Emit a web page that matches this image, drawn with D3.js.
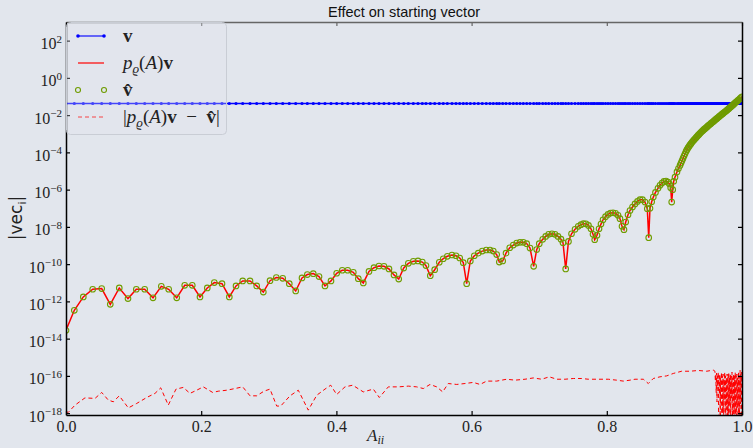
<!DOCTYPE html>
<html>
<head>
<meta charset="utf-8">
<script src="https://cdn.jsdelivr.net/npm/d3@7"></script>
<style>
  body { margin: 0; background: #e2e6ed; }
  svg { display: block; }
</style>
</head>
<body>
<svg class="chart" width="753" height="448"></svg>
<script>
// Data
const aii = [
  0.0000, 0.0123, 0.0256, 0.0395, 0.0528, 0.0655, 0.0788, 0.0917, 0.1040, 0.1164,
  0.1287, 0.1410, 0.1519, 0.1638, 0.1756, 0.1868, 0.1982, 0.2090, 0.2194, 0.2308,
  0.2416, 0.2515, 0.2614, 0.2722, 0.2821, 0.2919, 0.3018, 0.3111, 0.3206, 0.3303,
  0.3398, 0.3491, 0.3570, 0.3658, 0.3743, 0.3831, 0.3920, 0.4004, 0.4087, 0.4167,
  0.4250, 0.4324, 0.4398, 0.4482, 0.4556, 0.4630, 0.4704, 0.4778, 0.4852, 0.4922,
  0.4996, 0.5064, 0.5138, 0.5207, 0.5271, 0.5325, 0.5389, 0.5454, 0.5522, 0.5581,
  0.5641, 0.5710, 0.5769, 0.5824, 0.5877, 0.5927, 0.5981, 0.6040, 0.6099, 0.6158,
  0.6217, 0.6272, 0.6321, 0.6371, 0.6410, 0.6460, 0.6509, 0.6564, 0.6617, 0.6667,
  0.6716, 0.6765, 0.6815, 0.6864, 0.6918, 0.6963, 0.7001, 0.7052, 0.7096, 0.7140,
  0.7189, 0.7234, 0.7278, 0.7322, 0.7352, 0.7392, 0.7433, 0.7478, 0.7530, 0.7578,
  0.7618, 0.7655, 0.7692, 0.7729, 0.7766, 0.7796, 0.7821, 0.7855, 0.7885, 0.7914,
  0.7944, 0.7981, 0.8018, 0.8055, 0.8092, 0.8129, 0.8166, 0.8195, 0.8225, 0.8254,
  0.8280, 0.8314, 0.8343, 0.8380, 0.8417, 0.8454, 0.8491, 0.8528, 0.8565, 0.8599,
  0.8620, 0.8639, 0.8664, 0.8688, 0.8720, 0.8757, 0.8787, 0.8817, 0.8846, 0.8876,
  0.8905, 0.8928, 0.8945, 0.8960, 0.8975, 0.8990,
  0.9009, 0.9038, 0.9060, 0.9083, 0.9098, 0.9112, 0.9127, 0.9142, 0.9157, 0.9172,
  0.9186, 0.9201, 0.9216, 0.9231, 0.9245, 0.9260, 0.9275, 0.9290, 0.9305, 0.9320,
  0.9334, 0.9349, 0.9364, 0.9379, 0.9393, 0.9408, 0.9423, 0.9438, 0.9452, 0.9467,
  0.9482, 0.9497, 0.9512, 0.9527, 0.9541, 0.9556, 0.9571, 0.9586, 0.9600, 0.9615,
  0.9630, 0.9645, 0.9660, 0.9675, 0.9689, 0.9704, 0.9719, 0.9734, 0.9748, 0.9763,
  0.9778, 0.9793, 0.9808, 0.9822, 0.9837, 0.9852, 0.9867, 0.9882, 0.9896, 0.9911,
  0.9926, 0.9941, 0.9956, 0.9970, 0.9985, 1.0000
];

// p(A)v, v-hat lies on top of it
const pv = [
  2.82e-14, 3.31e-13, 1.74e-12, 4.47e-12, 4.90e-12, 6.92e-13, 5.25e-12, 1.41e-12, 4.47e-12, 4.47e-12,
  1.55e-12, 6.46e-12, 4.47e-12, 1.55e-12, 7.24e-12, 7.24e-12, 1.74e-12, 5.25e-12, 1.02e-11, 8.91e-12,
  1.74e-12, 6.76e-12, 1.26e-11, 1.26e-11, 6.76e-12, 3.16e-12, 1.29e-11, 1.91e-11, 1.74e-11, 8.91e-12,
  3.63e-12, 1.82e-11, 2.75e-11, 3.09e-11, 2.14e-11, 6.76e-12, 1.26e-11, 3.24e-11, 4.68e-11, 4.68e-11,
  3.63e-11, 1.66e-11, 9.77e-12, 4.07e-11, 6.46e-11, 7.94e-11, 7.59e-11, 5.50e-11, 2.63e-11, 1.58e-11,
  6.17e-11, 1.10e-10, 1.41e-10, 1.48e-10, 1.29e-10, 8.32e-11, 2.40e-11, 5.01e-11, 1.26e-10, 1.95e-10,
  2.63e-10, 3.09e-10, 2.82e-10, 2.14e-10, 1.20e-10, 8.91e-12, 1.48e-10, 2.82e-10, 3.89e-10, 5.01e-10,
  5.75e-10, 5.75e-10, 5.01e-10, 3.24e-10, 1.29e-10, 1.48e-10, 3.89e-10, 7.59e-10, 1.05e-9, 1.35e-9,
  1.48e-9, 1.48e-9, 1.26e-9, 7.24e-10, 7.59e-11, 6.03e-10, 1.26e-9, 2.14e-9, 3.09e-9, 3.98e-9,
  4.27e-9, 3.98e-9, 3.09e-9, 2.19e-9, 1.41e-9, 5.50e-11, 1.66e-9, 4.27e-9, 7.41e-9, 1.07e-8,
  1.32e-8, 1.48e-8, 1.45e-8, 1.20e-8, 7.94e-9, 3.98e-9, 2.04e-9, 3.55e-9, 7.94e-9, 1.41e-8,
  2.40e-8, 3.55e-8, 4.68e-8, 5.50e-8, 5.75e-8, 5.37e-8, 4.17e-8, 2.75e-8, 1.07e-8, 7.08e-9,
  1.82e-8, 4.47e-8, 7.59e-8, 1.17e-7, 1.70e-7, 2.34e-7, 2.88e-7, 2.88e-7, 2.14e-7, 9.55e-8,
  2.63e-9, 1.00e-7, 2.24e-7, 3.98e-7, 7.08e-7, 1.17e-6, 1.70e-6, 2.24e-6, 2.75e-6, 2.88e-6,
  2.51e-6, 2.00e-6, 1.26e-6, 2.14e-7, 1.00e-6, 2.82e-6,
  4.68e-6, 8.91e-6, 1.35e-5, 2.00e-5, 2.66e-5, 3.55e-5, 4.73e-5, 6.31e-5, 8.41e-5, 1.12e-4,
  1.40e-4, 1.74e-4, 2.09e-4, 2.51e-4, 2.95e-4, 3.47e-4, 4.03e-4, 4.68e-4, 5.37e-4, 6.17e-4,
  7.08e-4, 8.13e-4, 9.23e-4, 1.05e-3, 1.19e-3, 1.35e-3, 1.51e-3, 1.70e-3, 1.88e-3, 2.09e-3,
  2.34e-3, 2.63e-3, 2.92e-3, 3.24e-3, 3.59e-3, 3.98e-3, 4.42e-3, 4.90e-3, 5.43e-3, 6.03e-3,
  6.68e-3, 7.41e-3, 8.22e-3, 9.12e-3, 1.01e-2, 1.12e-2, 1.24e-2, 1.38e-2, 1.51e-2, 1.66e-2,
  1.84e-2, 2.04e-2, 2.29e-2, 2.57e-2, 2.85e-2, 3.16e-2, 3.55e-2, 3.98e-2, 4.47e-2, 5.01e-2,
  5.56e-2, 6.17e-2, 6.92e-2, 7.76e-2, 8.61e-2, 9.55e-2
];

// starting vector v (same at every A_ii)
const vLevel = 4.2e-2;

// |p(A)v - v-hat|
const errX = [
  0.0000, 0.0034, 0.0133, 0.0281, 0.0429, 0.0528, 0.0626, 0.0700, 0.0788, 0.0922,
  0.1046, 0.1194, 0.1317, 0.1401, 0.1513, 0.1627, 0.1735, 0.1834, 0.1933, 0.2031,
  0.2170, 0.2253, 0.2377, 0.2500, 0.2614, 0.2722, 0.2821, 0.2929, 0.3018, 0.3117,
  0.3176, 0.3314, 0.3436, 0.3584, 0.3709, 0.3831, 0.3916, 0.4004, 0.4127, 0.4241,
  0.4398, 0.4546, 0.4635, 0.4768, 0.4916, 0.5064, 0.5188, 0.5286, 0.5385, 0.5484,
  0.5572, 0.5655, 0.5780, 0.5902, 0.6025, 0.6124, 0.6223, 0.6371, 0.6519, 0.6642,
  0.6790, 0.6913, 0.7037, 0.7149, 0.7259, 0.7382, 0.7504, 0.7629, 0.7726, 0.7851,
  0.8022, 0.8146, 0.8244, 0.8343, 0.8417, 0.8540, 0.8614, 0.8688, 0.8787, 0.8886,
  0.8984, 0.9108, 0.9231, 0.9354, 0.9478, 0.9575,
  0.9600, 0.9606, 0.9612, 0.9618, 0.9624, 0.9630, 0.9636, 0.9642, 0.9648, 0.9654,
  0.9660, 0.9666, 0.9672, 0.9678, 0.9684, 0.9690, 0.9696, 0.9702, 0.9708, 0.9714,
  0.9720, 0.9726, 0.9732, 0.9738, 0.9744, 0.9750, 0.9756, 0.9762, 0.9768, 0.9774,
  0.9780, 0.9786, 0.9792, 0.9798, 0.9804, 0.9810, 0.9816, 0.9822, 0.9828, 0.9834,
  0.9840, 0.9846, 0.9852, 0.9858, 0.9864, 0.9870, 0.9876, 0.9882, 0.9888, 0.9894,
  0.9900, 0.9906, 0.9912, 0.9918, 0.9924, 0.9930, 0.9936, 0.9942, 0.9948, 0.9954,
  0.9960, 0.9966, 0.9972, 0.9978, 0.9984, 0.9990, 0.9996, 1.0000
];
const errValues = [
  1.17e-18, 1.10e-18, 2.69e-18, 6.61e-18, 6.17e-18, 1.29e-17, 5.01e-18, 4.07e-18, 8.51e-18, 1.91e-18,
  3.31e-18, 6.92e-18, 1.15e-17, 2.29e-17, 2.69e-18, 1.95e-17, 2.40e-17, 1.15e-17, 1.70e-17, 2.57e-17,
  1.29e-17, 1.51e-17, 1.70e-17, 2.09e-17, 2.57e-17, 8.51e-18, 8.51e-18, 1.51e-17, 1.95e-17, 2.40e-18,
  2.40e-18, 8.51e-18, 1.70e-17, 1.45e-18, 9.12e-18, 1.95e-17, 3.16e-17, 1.00e-17, 2.57e-17, 3.16e-17,
  1.38e-17, 1.95e-17, 6.92e-18, 2.57e-17, 2.57e-17, 2.82e-17, 2.57e-17, 2.09e-17, 3.47e-17, 2.57e-17,
  1.38e-17, 3.89e-17, 3.47e-17, 3.89e-17, 4.47e-17, 3.47e-17, 5.25e-17, 5.25e-17, 6.61e-17, 5.89e-17,
  6.61e-17, 7.76e-17, 6.61e-17, 8.91e-17, 6.61e-17, 6.61e-17, 7.24e-17, 7.24e-17, 6.61e-17, 6.61e-17,
  6.61e-17, 5.89e-17, 5.25e-17, 5.89e-17, 6.61e-17, 6.61e-17, 3.89e-17, 7.24e-17, 8.91e-17, 1.00e-16,
  1.35e-16, 1.78e-16, 1.78e-16, 1.95e-16, 1.78e-16, 2.04e-16,
  1.78e-16, 5.01e-17, 1.26e-16, 1.26e-17, 1.41e-16, 3.98e-18, 1.00e-16, 2.51e-17, 1.58e-16, 6.31e-19,
  1.00e-16, 1.00e-17, 1.26e-16, 2.51e-19, 7.94e-17, 3.16e-18, 1.58e-16, 1.00e-19, 1.00e-16, 1.00e-18,
  1.26e-16, 6.31e-20, 6.31e-17, 5.01e-18, 1.58e-16, 1.58e-19, 1.00e-16, 5.01e-20, 7.94e-17, 1.58e-18,
  1.26e-16, 3.16e-19, 1.00e-16, 7.94e-20, 1.58e-16, 2.51e-18, 7.94e-17, 3.98e-20, 1.26e-16, 5.01e-19,
  1.00e-16, 6.31e-18, 1.58e-16, 1.00e-19, 7.94e-17, 2.00e-19, 1.26e-16, 1.26e-18, 1.00e-16, 6.31e-20,
  1.58e-16, 7.94e-19, 1.00e-16, 5.01e-20, 1.26e-16, 2.00e-18, 7.94e-17, 1.26e-19, 1.58e-16, 3.98e-19,
  1.00e-16, 7.94e-20, 2.00e-16, 3.16e-18, 1.26e-16, 2.51e-19, 1.58e-16, 3.98e-17
];

const xTicks = [0, 0.2, 0.4, 0.6, 0.8, 1.0];
const yTicks = [1e2, 1e0, 1e-2, 1e-4, 1e-6, 1e-8, 1e-10, 1e-12, 1e-14, 1e-16, 1e-18];

const marginLeft = 66, marginTop = 22, xMax = 676, yMax = 393;
const bg = "#e2e6ed";
const green = "#6f9c00";
const serif = "'Liberation Serif', 'DejaVu Serif', serif";

const svg = d3.select(".chart");
svg.append("rect").attr("width", 753).attr("height", 448).attr("fill", bg);

svg.append("defs").append("clipPath").attr("id", "plot")
  .append("rect").attr("width", xMax).attr("height", yMax);

const g = svg.append("g")
  .attr("transform", "translate(" + marginLeft + "," + marginTop + ")");

// Scales
const x = d3.scaleLinear().domain([0, 1]).range([0, xMax]);
const y = d3.scaleLog().domain([7.94e-19, 1e3]).range([yMax, 0]);

const pts = aii.map((d, i) => ({ a: d, p: pv[i] }));
const errPts = errX.map((d, i) => ({ a: d, e: errValues[i] }));

const plot = g.append("g").attr("clip-path", "url(#plot)");

// v
plot.append("path")
  .datum(pts)
  .attr("fill", "none").attr("stroke", "#0000ff").attr("stroke-width", 1.6)
  .attr("d", d3.line().x(d => x(d.a)).y(() => y(vLevel)));
plot.append("g").selectAll("circle")
  .data(pts).enter().append("circle")
  .attr("cx", d => x(d.a)).attr("cy", y(vLevel)).attr("r", 1.6)
  .attr("fill", "#0000ff");

// p(A)v
plot.append("path")
  .datum(pts)
  .attr("fill", "none").attr("stroke", "#ff0000").attr("stroke-width", 1.5)
  .attr("d", d3.line().x(d => x(d.a)).y(d => y(d.p)));

// v-hat
plot.append("g").selectAll("circle")
  .data(pts).enter().append("circle")
  .attr("cx", d => x(d.a)).attr("cy", d => y(d.p)).attr("r", 2.8)
  .attr("fill", "none").attr("stroke", green).attr("stroke-width", 1.1);

// |p(A)v - v-hat|
plot.append("path")
  .datum(errPts)
  .attr("fill", "none").attr("stroke", "#ff0000").attr("stroke-width", 1)
  .attr("stroke-dasharray", "4,3")
  .attr("d", d3.line().x(d => x(d.a)).y(d => y(d.e)));

// Axes
function styleAxis(sel, color) {
  sel.select(".domain").attr("stroke", color).attr("stroke-width", 1.5);
  sel.selectAll(".tick line").attr("stroke", color).attr("stroke-width", 1.2);
}

const xAxis = g.append("g")
  .attr("transform", "translate(0," + yMax + ")")
  .call(d3.axisBottom(x).tickValues(xTicks).tickSize(-4).tickSizeOuter(0)
    .tickPadding(6).tickFormat(d3.format(".1f")));
styleAxis(xAxis, "#000");
xAxis.selectAll("text").attr("font-family", serif).attr("font-size", 16).attr("fill", "#222");

const topAxis = g.append("g")
  .call(d3.axisTop(x).tickValues(xTicks).tickSize(-4).tickSizeOuter(0).tickFormat(""));
styleAxis(topAxis, "#666");

const yAxis = g.append("g")
  .call(d3.axisLeft(y).tickValues(yTicks).tickSize(-4).tickSizeOuter(0).tickPadding(4));
styleAxis(yAxis, "#000");
yAxis.selectAll(".tick text").each(function(d) {
  const e = Math.round(Math.log10(d));
  const t = d3.select(this).text("")
    .attr("font-family", serif).attr("font-size", 16).attr("fill", "#222")
    .attr("dy", "0.5em");
  t.append("tspan").text("10");
  t.append("tspan").attr("dy", "-0.6em").attr("font-size", 11)
    .text(e < 0 ? "\u2212" + (-e) : e);
});

const rightAxis = g.append("g")
  .attr("transform", "translate(" + xMax + ",0)")
  .call(d3.axisRight(y).tickValues(yTicks).tickSize(-4).tickSizeOuter(0).tickFormat(""));
styleAxis(rightAxis, "#000");

// Title and labels
svg.append("text")
  .attr("x", marginLeft + xMax / 2).attr("y", 16.5)
  .attr("text-anchor", "middle")
  .attr("font-family", "'Liberation Sans', Arial, sans-serif").attr("font-size", 14.5)
  .attr("fill", "#111")
  .text("Effect on starting vector");

const xl = svg.append("text")
  .attr("x", 367).attr("y", 441)
  .attr("font-family", serif).attr("font-size", 17).attr("fill", "#222");
xl.append("tspan").attr("font-style", "italic").text("A");
xl.append("tspan").attr("font-style", "italic").attr("font-size", 12).attr("dy", 3).text("ii");

const yl = svg.append("text")
  .attr("transform", "translate(22,218) rotate(-90)")
  .attr("text-anchor", "middle")
  .attr("font-family", "'DejaVu Sans', sans-serif").attr("font-size", 17).attr("fill", "#222");
yl.append("tspan").text("|vec");
yl.append("tspan").attr("font-size", 11).attr("dy", 4).text("i");
yl.append("tspan").attr("dy", -4).text("|");

// Legend
const legend = svg.append("g");
legend.append("rect")
  .attr("x", 66.5).attr("y", 22.5).attr("width", 160).attr("height", 112).attr("rx", 4)
  .attr("fill", bg).attr("fill-opacity", 0.3)
  .attr("stroke", "#c9cdd5").attr("stroke-width", 1);

const rows = [36, 63, 90, 117];
legend.append("line").attr("x1", 78).attr("x2", 104).attr("y1", rows[0]).attr("y2", rows[0])
  .attr("stroke", "#0000ff").attr("stroke-width", 1.6).attr("stroke-opacity", 0.7);
legend.selectAll(".vdot").data([78, 104]).enter().append("circle")
  .attr("cx", d => d).attr("cy", rows[0]).attr("r", 1.8).attr("fill", "#0000ff");
legend.append("line").attr("x1", 78).attr("x2", 104).attr("y1", rows[1]).attr("y2", rows[1])
  .attr("stroke", "#ff0000").attr("stroke-width", 1.5).attr("stroke-opacity", 0.8);
legend.selectAll(".hdot").data([78, 104]).enter().append("circle")
  .attr("cx", d => d).attr("cy", rows[2]).attr("r", 2.5)
  .attr("fill", "none").attr("stroke", green).attr("stroke-width", 1.1);
legend.append("line").attr("x1", 78).attr("x2", 104).attr("y1", rows[3]).attr("y2", rows[3])
  .attr("stroke", "#ff0000").attr("stroke-width", 1).attr("stroke-dasharray", "4,3")
  .attr("stroke-opacity", 0.7);

function label(yy, parts) {
  const t = legend.append("text").attr("x", 123).attr("y", yy + 6)
    .attr("font-family", serif).attr("font-size", 19).attr("fill", "#222");
  parts.forEach(p => {
    const s = t.append("tspan").text(p[0]);
    if (p[1] === "b") s.attr("font-weight", "bold");
    if (p[1] === "i") s.attr("font-style", "italic");
    if (p[2]) s.attr("dy", p[2]);
    if (p[3]) s.attr("font-size", p[3]);
  });
}
label(rows[0], [["v", "b"]]);
label(rows[1], [["p", "i"], ["\u03f1", "i", 4, 13], ["(", "", -4], ["A", "i"], [")", ""], ["v", "b"]]);
label(rows[2], [["v\u0302", "b"]]);
label(rows[3], [["|", ""], ["p", "i"], ["\u03f1", "i", 4, 13], ["(", "", -4], ["A", "i"], [")", ""],
  ["v", "b"], ["\u2002\u2212\u2002", ""], ["v\u0302", "b"], ["|", ""]]);
</script>
</body>
</html>
